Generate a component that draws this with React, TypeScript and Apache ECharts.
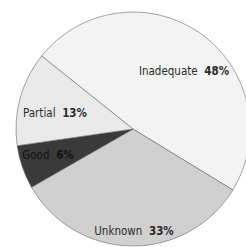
import React, { useEffect, useRef } from "react";
import * as echarts from "echarts";

const categories = ["Inadequate", "Unknown", "Good", "Partial"];
const values = [48, 33, 6, 13];
const colors = ["#f3f3f3", "#d0d0d0", "#3a3a3a", "#eaeaea"];
// label anchor points (pixel positions of the labels in the picture)
const labelPos: [number, number][] = [
  [184, 71],
  [134, 231],
  [48, 155],
  [55, 113],
];

export default function App() {
  const ref = useRef<HTMLDivElement>(null);
  useEffect(() => {
    document.body.style.margin = "0";
    const chart = echarts.init(ref.current!, undefined, { renderer: "svg" });
    const font = '"DejaVu Sans Condensed", "Liberation Sans Narrow", sans-serif';
    const rich = (color: string) => ({
      n: { fontFamily: font, fontSize: 11.5, color },
      v: { fontFamily: font, fontSize: 11.5, fontWeight: "bold", color },
    });
    chart.setOption({
      animation: false,
      backgroundColor: "#ffffff",
      series: [
        {
          type: "pie",
          center: [133, 129],
          radius: [0, 117],
          startAngle: 141.4,
          clockwise: true,
          silent: true,
          itemStyle: { borderColor: "#666666", borderWidth: 0.6 },
          label: {
            show: true,
            position: "inside",
            formatter: (p: any) => `{n|${p.name}}  {v|${p.value}%}`,
            rich: rich("#2a2a2a"),
          },
          labelLine: { show: false },
          labelLayout: (params: any) => {
            const pos = labelPos[params.dataIndex];
            return { x: pos[0], y: pos[1], align: "center", verticalAlign: "middle" };
          },
          data: categories.map((c, i) => ({
            name: c,
            value: values[i],
            itemStyle: { color: colors[i] },
            label: i === 2 ? { rich: rich("#111111") } : undefined,
          })),
        },
      ],
    });
    return () => chart.dispose();
  }, []);
  return <div ref={ref} style={{ width: 246, height: 247 }} />;
}
